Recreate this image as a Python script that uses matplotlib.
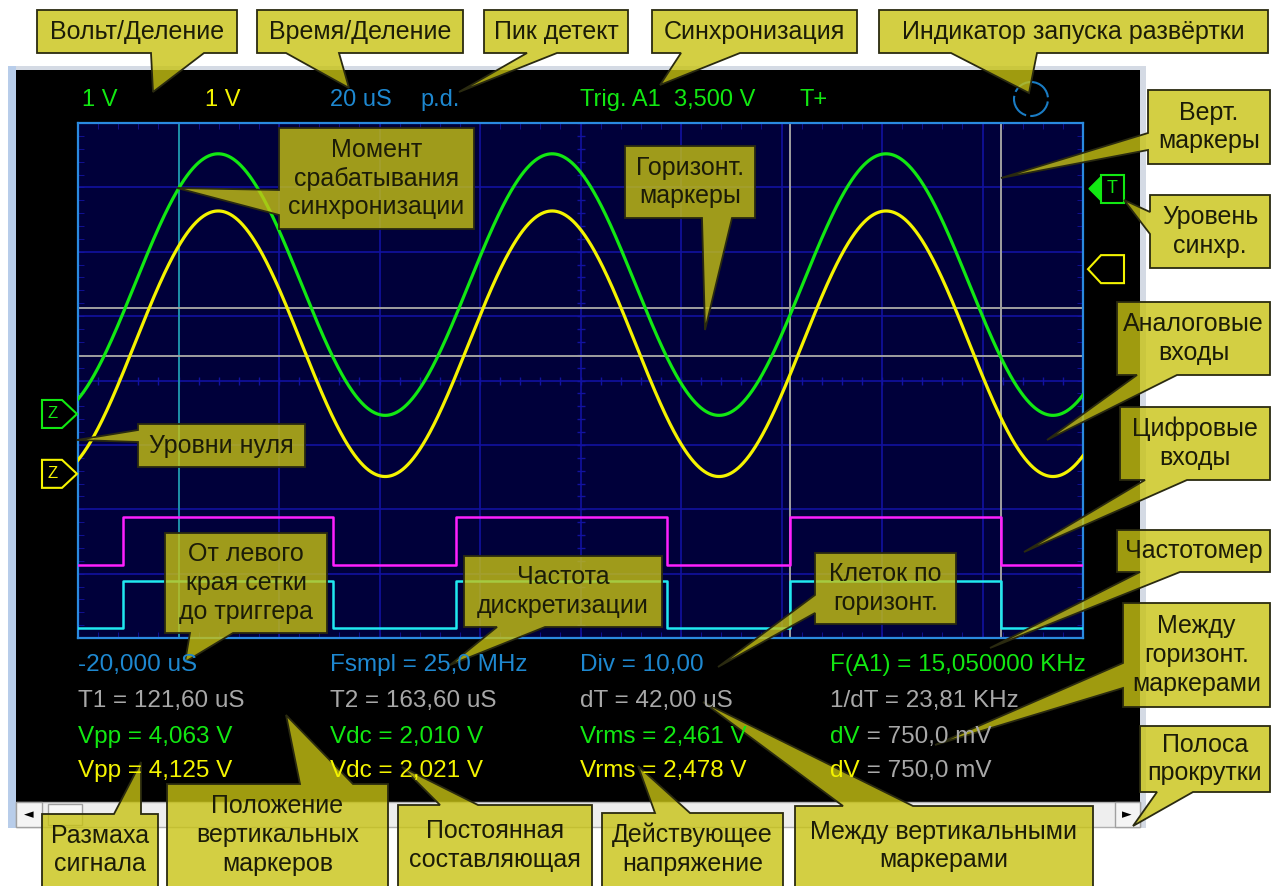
import numpy as np
import matplotlib.pyplot as plt
from matplotlib.patches import Polygon, Rectangle, Circle

plt.rcParams['font.family'] = ['Liberation Sans', 'DejaVu Sans']

W, H = 1283, 886

# scope settings / readings
us_per_div = 20.0
volts_per_div = 1.0
pretrig_us = -20.0
n_hdiv, n_vdiv = 10, 8
freq_khz = 15.05
vpp = [4.063, 4.125]          # A1 (green), A2 (yellow)
vdc = [2.010, 2.021]
zero_div = [3.48, 2.55]       # zero levels, divisions from bottom
trig_level = 3.5
yellow_mark_div = 5.73
t1_us, t2_us = 121.6, 163.6
hmark_div = [5.13, 4.38]

# digital inputs: edge times (us) and low/high levels (div)
dig_rise = [-11.0, 55.2, 121.6]
dig_fall = [30.8, 97.3, 163.6]
dig_magenta = (1.13, 1.88)
dig_cyan = (0.15, 0.885)

GREEN = '#12e812'
YELLOW = '#f4f400'
BLUE = '#1e88d0'
GRAY = '#a8a8a8'

top_labels = [("1 V", GREEN), ("1 V", YELLOW), ("20 uS", BLUE), ("p.d.", BLUE),
              ("Trig. A1  3,500 V", GREEN), ("T+", GREEN)]
top_x = [82, 205, 330, 420, 580, 800]

readouts = [
    [("-20,000 uS", BLUE), ("Fsmpl = 25,0 MHz", BLUE), ("Div = 10,00", BLUE), ("F(A1) = 15,050000 KHz", GREEN)],
    [("T1 = 121,60 uS", GRAY), ("T2 = 163,60 uS", GRAY), ("dT = 42,00 uS", GRAY), ("1/dT = 23,81 KHz", GRAY)],
    [("Vpp = 4,063 V", GREEN), ("Vdc = 2,010 V", GREEN), ("Vrms = 2,461 V", GREEN), ("dV", GREEN, " = 750,0 mV")],
    [("Vpp = 4,125 V", YELLOW), ("Vdc = 2,021 V", YELLOW), ("Vrms = 2,478 V", YELLOW), ("dV", YELLOW, " = 750,0 mV")],
]
col_x = [78, 330, 580, 830]
row_y = [665, 701, 737, 771]

# callouts: text, box (x0, y0, x1, y1), side, base, tip   (pixel layout)
callouts = [
    ("Вольт/Деление", (37, 10, 237, 53), 'bottom', (151, 204), (153, 92)),
    ("Время/Деление", (257, 10, 463, 53), 'bottom', (286, 339), (349, 88)),
    ("Пик детект", (484, 10, 628, 53), 'bottom', (527, 557), (459, 92)),
    ("Синхронизация", (652, 10, 857, 53), 'bottom', (681, 740), (660, 85)),
    ("Индикатор запуска развёртки", (879, 10, 1268, 53), 'bottom', (951, 1037), (1029, 93)),
    ("Верт.\nмаркеры", (1148, 90, 1270, 164), 'left', (133, 150), (1001, 178)),
    ("Уровень\nсинхр.", (1150, 195, 1270, 268), 'left', (212, 234), (1124, 200)),
    ("Аналоговые\nвходы", (1117, 302, 1270, 375), 'bottom', (1137, 1177), (1047, 440)),
    ("Цифровые\nвходы", (1120, 407, 1270, 480), 'bottom', (1145, 1187), (1024, 552)),
    ("Частотомер", (1117, 530, 1270, 572), 'bottom', (1140, 1180), (990, 648)),
    ("Между\nгоризонт.\nмаркерами", (1123, 603, 1270, 707), 'left', (663, 688), (935, 745)),
    ("Полоса\nпрокрутки", (1140, 726, 1270, 792), 'bottom', (1157, 1193), (1133, 826)),
    ("Момент\nсрабатывания\nсинхронизации", (279, 128, 474, 229), 'left', (190, 215), (177, 188)),
    ("Горизонт.\nмаркеры", (625, 146, 755, 218), 'bottom', (702, 732), (705, 330)),
    ("Уровни нуля", (138, 424, 305, 467), 'left', (430, 442), (77, 440)),
    ("От левого\nкрая сетки\nдо триггера", (165, 533, 327, 633), 'bottom', (190, 233), (185, 662)),
    ("Частота\nдискретизации", (464, 556, 662, 627), 'bottom', (497, 545), (450, 665)),
    ("Клеток по\nгоризонт.", (815, 553, 956, 624), 'left', (595, 613), (718, 667)),
    ("Размаха\nсигнала", (42, 814, 158, 900), 'top', (114, 141), (141, 762)),
    ("Положение\nвертикальных\nмаркеров", (167, 784, 388, 900), 'top', (300, 353), (286, 715)),
    ("Постоянная\nсоставляющая", (398, 805, 592, 900), 'top', (440, 478), (402, 767)),
    ("Действующее\nнапряжение", (602, 813, 783, 900), 'top', (655, 690), (638, 766)),
    ("Между вертикальными\nмаркерами", (795, 806, 1093, 900), 'top', (843, 913), (703, 702)),
]

fig = plt.figure(figsize=(W / 100, H / 100), dpi=100)
fig.patch.set_facecolor('white')

bg = fig.add_axes([0, 0, 1, 1], zorder=0)
bg.set_xlim(0, W)
bg.set_ylim(H, 0)
bg.axis('off')

# scope panel
bg.add_patch(Rectangle((8, 66), 1138, 762, fc='#d4dae4', ec='none'))
bg.add_patch(Rectangle((8, 66), 8, 762, fc='#b8cdea', ec='none'))
bg.add_patch(Rectangle((16, 70), 1124, 732, fc='black', ec='none'))
# scrollbar
bg.add_patch(Rectangle((16, 802), 1124, 25, fc='#eeeeee', ec='#b0b0b0', lw=1))
bg.add_patch(Rectangle((16, 802), 26, 25, fc='#f4f4f4', ec='#a0a0a0', lw=1))
bg.add_patch(Rectangle((48, 804), 34, 21, fc='#f8f8f8', ec='#a0a0a0', lw=1))
bg.add_patch(Rectangle((1115, 802), 25, 25, fc='#f4f4f4', ec='#a0a0a0', lw=1))
bg.text(29, 815, '◄', ha='center', va='center', fontsize=9, color='black', family='DejaVu Sans')
bg.text(1127, 815, '►', ha='center', va='center', fontsize=9, color='black', family='DejaVu Sans')

# grid axes
gx0, gx1, gy0, gy1 = 78, 1083, 123, 638
ax = fig.add_axes([gx0 / W, 1 - gy1 / H, (gx1 - gx0) / W, (gy1 - gy0) / H], zorder=5)
ax.set_facecolor('#00003a')
x0, x1 = pretrig_us, pretrig_us + n_hdiv * us_per_div
ax.set_xlim(x0, x1)
ax.set_ylim(0, n_vdiv)
grid_blue = '#1212a0'
for xv in np.arange(x0, x1 + 1, us_per_div):
    ax.axvline(xv, color=grid_blue, lw=1.2, zorder=1)
for yv in range(n_vdiv + 1):
    ax.axhline(yv, color=grid_blue, lw=1.2, zorder=1)
xminor = np.arange(x0, x1 + 0.1, us_per_div / 5)
yminor = np.arange(0, n_vdiv + 0.01, 0.2)
ax.plot(xminor, np.full_like(xminor, n_vdiv / 2), ls='none', marker='|', ms=6, color=grid_blue, zorder=1)
ax.plot(np.full_like(yminor, x0 + n_hdiv / 2 * us_per_div), yminor, ls='none', marker='_', ms=6,
        color=grid_blue, zorder=1)
ax.set_xticks(xminor, minor=True)
ax.set_yticks(yminor, minor=True)
ax.set_xticks([])
ax.set_yticks([])
ax.tick_params(which='minor', direction='in', length=4, color=grid_blue, top=True, right=True,
               labelbottom=False, labelleft=False)
for s in ax.spines.values():
    s.set_color('#2a8ae0')
    s.set_linewidth(1.6)

# trigger moment and markers
ax.axvline(0, color='#1f9aa8', lw=1.3, zorder=2)
for tv in (t1_us, t2_us):
    ax.axvline(tv, color='#a0a0a0', lw=1.4, zorder=2)
for hv in hmark_div:
    ax.axhline(hv, color='#a0a0a0', lw=1.4, zorder=2)

# analog channels (sine defined by measured Vpp, Vdc, frequency and trigger point)
t = np.linspace(x0, x1, 2000)
w = 2 * np.pi * freq_khz / 1000.0
phi = np.arcsin((trig_level - vdc[0]) / (vpp[0] / 2))
for i, col in enumerate([GREEN, YELLOW]):
    v = vdc[i] + vpp[i] / 2 * np.sin(w * t + phi)
    ax.plot(t, zero_div[i] + v / volts_per_div, color=col, lw=2.3, zorder=4)

# digital channels
def step_trace(lo, hi):
    ts, ys = [x0], [lo]
    for r, f in zip(dig_rise, dig_fall):
        ts += [r, r, f, f]
        ys += [lo, hi, hi, lo]
    ts.append(x1)
    ys.append(lo)
    return ts, ys

for lv, col in [(dig_magenta, '#ff20ff'), (dig_cyan, '#20e8f0')]:
    ts, ys = step_trace(*lv)
    ax.plot(ts, ys, color=col, lw=1.8, zorder=3)

fg = fig.add_axes([0, 0, 1, 1], zorder=10)
fg.set_xlim(0, W)
fg.set_ylim(H, 0)
fg.axis('off')


def d2p(xd, yd):
    return fg.transData.inverted().transform(ax.transData.transform((xd, yd)))


# zero level markers on the left
for i, col in enumerate([GREEN, YELLOW]):
    yp = d2p(x0, zero_div[i])[1]
    pent = [(42, yp - 14), (62, yp - 14), (77, yp), (62, yp + 14), (42, yp + 14)]
    fg.add_patch(Polygon(pent, closed=True, fc='black', ec=col, lw=1.5))
    fg.text(53, yp, 'Z', color=col, ha='center', va='center', fontsize=12)

# trigger level marker (green) and yellow marker on the right
yp = d2p(x1, zero_div[0] + trig_level / volts_per_div)[1]
fg.add_patch(Polygon([(1089, yp), (1101, yp - 12), (1101, yp + 12)], closed=True, fc=GREEN, ec=GREEN))
fg.add_patch(Rectangle((1101, yp - 14), 23, 28, fc='black', ec=GREEN, lw=1.5))
fg.text(1112.5, yp, 'T', color=GREEN, ha='center', va='center', fontsize=13)
yp = d2p(x1, yellow_mark_div)[1]
fg.add_patch(Polygon([(1088, yp), (1101, yp - 14), (1124, yp - 14), (1124, yp + 14), (1101, yp + 14)],
                     closed=True, fc='black', ec=YELLOW, lw=1.5))

# run indicator
fg.add_patch(Circle((1031, 99), 17, fill=False, ec='#1a7cc4', lw=1.5, ls=(0, (12, 2))))

# top labels
for (txt, col), xp in zip(top_labels, top_x):
    fg.text(xp, 100, txt, color=col, fontsize=17, ha='left', va='center')

# readouts
renderer = fig.canvas.get_renderer()
for row, yp in zip(readouts, row_y):
    for item, xp in zip(row, col_x):
        tx = fg.text(xp, yp, item[0], color=item[1], fontsize=17.5, ha='left', va='center')
        if len(item) == 3:
            bb = tx.get_window_extent(renderer)
            xe = fg.transData.inverted().transform((bb.x1, bb.y0))[0]
            fg.text(xe, yp, item[2], color=GRAY, fontsize=17.5, ha='left', va='center')

# callouts
FACE = (200 / 255, 195 / 255, 20 / 255, 0.8)
for txt, (bx0, by0, bx1, by1), side, (a, b), tip in callouts:
    tl, tr, br, bl = (bx0, by0), (bx1, by0), (bx1, by1), (bx0, by1)
    if side == 'top':
        pts = [tl, (a, by0), tip, (b, by0), tr, br, bl]
    elif side == 'right':
        pts = [tl, tr, (bx1, a), tip, (bx1, b), br, bl]
    elif side == 'bottom':
        pts = [tl, tr, br, (b, by1), tip, (a, by1), bl]
    else:
        pts = [tl, tr, br, bl, (bx0, b), tip, (bx0, a)]
    fg.add_patch(Polygon(pts, closed=True, fc=FACE, ec='#2a2a10', lw=1.3, joinstyle='miter'))
    cy = (by0 + min(by1, H)) / 2
    fg.text((bx0 + bx1) / 2, cy, txt, ha='center', va='center', fontsize=18,
            color='#1c1c08', linespacing=1.25)

fig.savefig('out.png', dpi=100)
